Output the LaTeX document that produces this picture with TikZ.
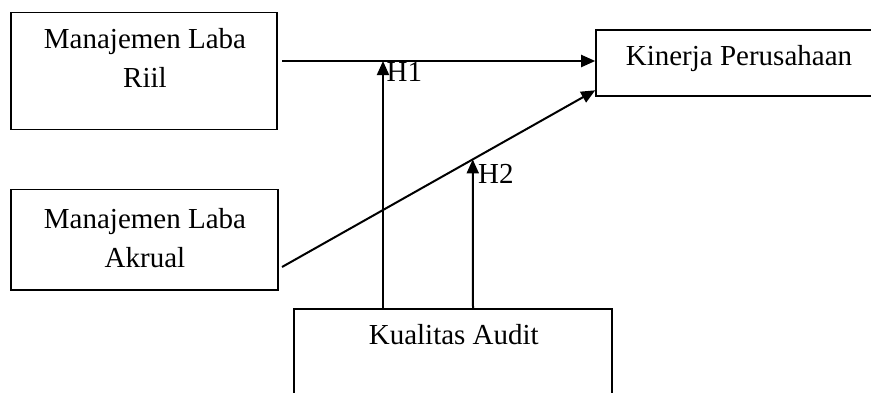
\documentclass[tikz,border=0pt]{standalone}
\usepackage{fontspec}
\setmainfont{Liberation Serif}
\usetikzlibrary{arrows.meta,calc}
\begin{document}
\begin{tikzpicture}[x=1pt,y=-1pt,
  box/.style={draw, line width=1.6pt, rectangle, inner sep=0pt},
  lbl/.style={font=\fontsize{29}{39}\selectfont, align=center, inner sep=0pt, anchor=base},
  conn/.style={line width=2pt, -{Triangle[length=14pt,width=12pt]}},
  hyp/.style={font=\fontsize{29}{34}\selectfont, inner sep=0pt, anchor=base west}]
\useasboundingbox (0,0) rectangle (871,392);
\clip (0,0) rectangle (871,392);
% boxes
\node[box, minimum width=266pt, minimum height=117pt] (riil) at (143.8,70.8) {};
\node[box, minimum width=267pt, minimum height=100.7pt] (akr) at (144.5,239.7) {};
\node[box, minimum width=286pt, minimum height=66pt] (kin) at (739,63) {};
\node[box, minimum width=318pt, minimum height=100.7pt] (aud) at (453,359.6) {};
% texts (base anchor = baseline of the last line)
\node[lbl] (triil) at (145,87) {Manajemen Laba\\Riil};
\node[lbl] (takr) at (145,267.3) {Manajemen Laba\\Akrual};
\node[lbl] (tkin) at (739,65) {Kinerja Perusahaan};
\node[lbl] (taud) at (453.8,344.3) {Kualitas Audit};
% connectors
\coordinate (a1) at (282,61);
\coordinate (b1) at (282,267);
\coordinate (b2) at ($(kin.south west)+(0,-6.5)$);
\coordinate (h1x) at (383,0);
\coordinate (h2x) at (473,0);
\draw[conn] (a1) -- (a1 -| kin.west);
\draw[conn] (b1) -- (b2);
\draw[conn] (aud.north -| h1x) -- (a1 -| h1x);
\draw[conn] (aud.north -| h2x) -- ($(b1)!0.609!(b2)$);
% hypothesis labels
\node[hyp] (h1) at (386.5,81.7) {H1};
\node[hyp] (h2) at (478,183.3) {H2};
\end{tikzpicture}
\end{document}
